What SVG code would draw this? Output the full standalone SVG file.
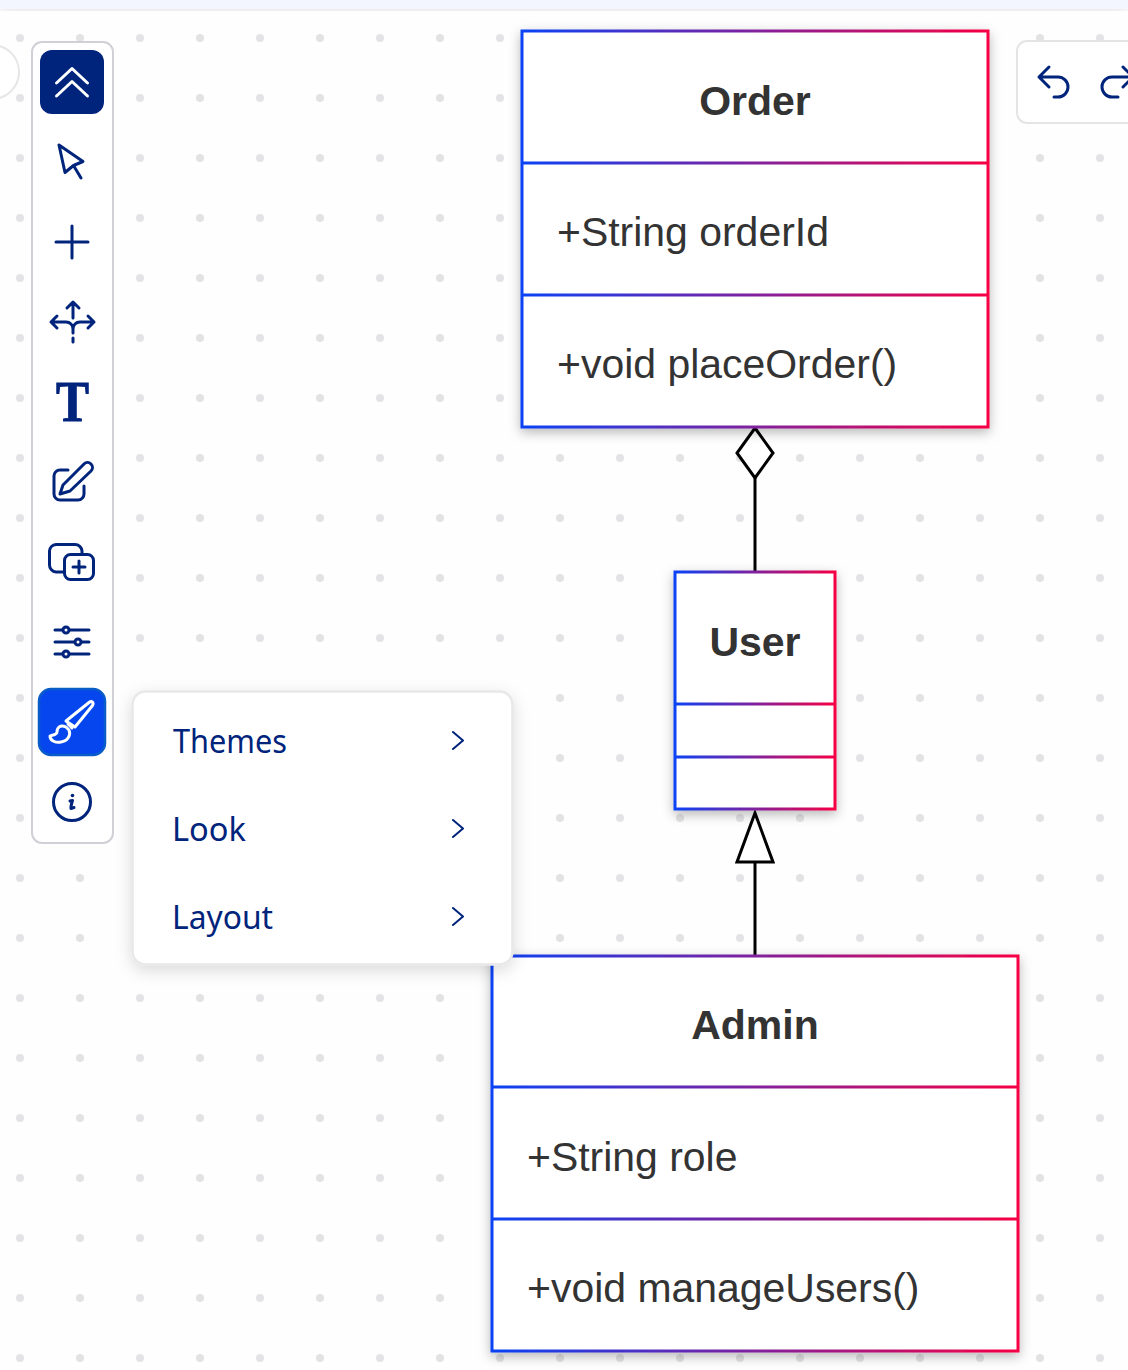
<svg xmlns="http://www.w3.org/2000/svg" width="1128" height="1370" viewBox="0 0 1128 1370">
<style>
.title{font:bold 41px "Liberation Sans",Arial,sans-serif;fill:#333;text-anchor:middle}
.member{font:40.950px "Liberation Sans",Arial,sans-serif;fill:#333}
.menu{font:32px "Noto Sans",Lato,sans-serif;fill:#00247c}
.ico{fill:none;stroke:#00247c;stroke-width:3;stroke-linecap:round;stroke-linejoin:round}
.wht{fill:none;stroke:#fff;stroke-width:3;stroke-linecap:round;stroke-linejoin:round}
.box{fill:#fff;stroke-width:3}
.div{fill:none;stroke-width:3}
.edge{fill:none;stroke:#000;stroke-width:3}
.o{stroke:url(#gOrder)}.u{stroke:url(#gUser)}.a{stroke:url(#gAdmin)}
</style>
<defs>
<pattern id="dots" x="0" y="0" width="60" height="60" patternUnits="userSpaceOnUse"><circle cx="20" cy="38" r="4" fill="#e3e3e6"/></pattern>
<linearGradient id="gOrder" gradientUnits="userSpaceOnUse" x1="522" y1="0" x2="988" y2="0"><stop offset="0" stop-color="#0a42f5"/><stop offset="1" stop-color="#f70044"/></linearGradient>
<linearGradient id="gUser" gradientUnits="userSpaceOnUse" x1="675" y1="0" x2="835" y2="0"><stop offset="0" stop-color="#0a42f5"/><stop offset="1" stop-color="#f70044"/></linearGradient>
<linearGradient id="gAdmin" gradientUnits="userSpaceOnUse" x1="492" y1="0" x2="1018" y2="0"><stop offset="0" stop-color="#0a42f5"/><stop offset="1" stop-color="#f70044"/></linearGradient>
<filter id="sh" x="-10%" y="-10%" width="120%" height="120%"><feDropShadow dx="0" dy="4" stdDeviation="6" flood-color="#000" flood-opacity=".28"/></filter>
<filter id="sh2" x="-10%" y="-10%" width="120%" height="125%"><feDropShadow dx="0" dy="5" stdDeviation="8" flood-color="#000" flood-opacity=".14"/></filter>
<marker id="diamond" markerUnits="userSpaceOnUse" viewBox="0 0 40 54" markerWidth="40" markerHeight="54" refX="20" refY="52" orient="0"><path d="M20 2L38 27L20 52L2 27Z" fill="#fff" stroke="#000" stroke-width="3"/></marker>
<marker id="triangle" markerUnits="userSpaceOnUse" viewBox="0 0 40 54" markerWidth="40" markerHeight="54" refX="20" refY="52" orient="0"><path d="M20 3L38 52H2Z" fill="#fff" stroke="#000" stroke-width="3"/></marker>
</defs>
<rect id="background" width="1128" height="1370" fill="#fefefe"/>
<rect id="dot-grid" width="1128" height="1370" fill="url(#dots)"/>
<rect id="top-bar" width="1128" height="9" fill="#f3f6fe" filter="url(#sh2)"/>
<circle id="corner-control" cx="-8" cy="72" r="27" fill="#fff" stroke="#e6e6e6" stroke-width="2"/>

<g id="connectors">
<path class="edge" d="M755 572V478" marker-end="url(#diamond)"/>
<path class="edge" d="M755 956V862" marker-end="url(#triangle)"/>
</g>

<g id="node-order">
<rect class="box o" x="522" y="31" width="466" height="396" filter="url(#sh)"/>
<path class="div o" d="M522 163H988M522 295H988"/>
<text class="title" x="755" y="115">Order</text>
<text class="member" x="557" y="246">+String orderId</text>
<text class="member" x="557" y="378">+void placeOrder()</text>
</g>
<g id="node-user">
<rect class="box u" x="675" y="572" width="160" height="237" filter="url(#sh)"/>
<path class="div u" d="M675 704H835M675 757H835"/>
<text class="title" x="755" y="656">User</text>
</g>
<g id="node-admin">
<rect class="box a" x="492" y="956" width="526" height="395" filter="url(#sh)"/>
<path class="div a" d="M492 1087H1018M492 1219H1018"/>
<text class="title" x="755" y="1039">Admin</text>
<text class="member" x="527" y="1171">+String role</text>
<text class="member" x="527" y="1302">+void manageUsers()</text>
</g>

<g id="toolbar">
<rect x="32" y="42" width="81" height="801" rx="10" fill="#fff" stroke="#d0d0d6" stroke-width="2"/>
<g id="tool-collapse"><rect x="40" y="50" width="64" height="64" rx="12" fill="#00247c"/><path class="wht" d="M56.500 83L72 68.500L87.500 83M56.500 96L72 81.500L87.500 96"/></g>
<g id="tool-pointer"><path class="ico" d="M59 145L83 161.500L73.500 165.500L65 172.500ZM73.500 165.500L81 178"/></g>
<g id="tool-add"><path class="ico" d="M56 242H88M72 226V258"/></g>
<g id="tool-move"><path class="ico" d="M73 303V318M67 308L73 302L79 308M52 322H66C70 322 73 325 73 329C73 325 76 322 80 322H94M57 316L51 322L57 328M88 316L94 322L88 328M73 329V333M73 338V342"/></g>
<g id="tool-text"><text x="56" y="421" textLength="33" lengthAdjust="spacingAndGlyphs" font-family="'Liberation Serif',serif" font-weight="bold" font-size="56" fill="#00247c" stroke="#00247c" stroke-width="1">T</text></g>
<g id="tool-edit"><path class="ico" d="M68 470H60A6 6 0 0 0 54 476V494A6 6 0 0 0 60 500H78A6 6 0 0 0 84 494V486"/><path class="ico" d="M60 494L63 485L84 464A3.500 3.500 0 0 1 91 471L70 491Z"/></g>
<g id="tool-duplicate"><path class="ico" d="M64 572H56A7 7 0 0 1 49.500 565V551A7 7 0 0 1 56 544.500H75A7 7 0 0 1 82 551V554"/><rect class="ico" x="64.500" y="554.500" width="29" height="25" rx="6"/><path class="ico" d="M73 567H85M79 561V573"/></g>
<g id="tool-settings"><path class="ico" d="M55 630H89M55 642H89M55 654H89"/><circle class="ico" cx="66" cy="630" r="3" style="fill:#fff"/><circle class="ico" cx="78" cy="642" r="3" style="fill:#fff"/><circle class="ico" cx="66" cy="654" r="3" style="fill:#fff"/></g>
<g id="tool-style"><rect x="39" y="689" width="66" height="66" rx="12" fill="#0546ee" stroke="#0a5cc8" stroke-width="2.500"/><path class="wht" d="M66 721L89 702.500C92 700 94 703 92.500 705.500L75 727Z"/><path class="wht" stroke-width="2.500" d="M68 724L72 728"/><path class="wht" d="M66 727C60 724 57 728 57 732C57 735 52 735 50 736C50 741 56 743 61 742C68 741 71 735 69 730Z"/></g>
<g id="tool-info"><circle class="ico" cx="72" cy="802" r="18.500"/><path class="ico" d="M70 801L72.500 800.500C71.500 804 70.500 807 71 808.500L74 807.500"/><circle cx="72.500" cy="795.500" r="1.800" fill="#00247c"/></g>
</g>

<g id="menu">
<rect x="132.500" y="691.500" width="380" height="273" rx="13" fill="#fff" stroke="#e8e8e8" stroke-width="2.500" filter="url(#sh2)"/>
<text class="menu" x="173" y="753" textLength="114" lengthAdjust="spacingAndGlyphs">Themes</text>
<text class="menu" x="172" y="841" textLength="74" lengthAdjust="spacingAndGlyphs">Look</text>
<text class="menu" x="172" y="929" textLength="101" lengthAdjust="spacingAndGlyphs">Layout</text>
<path class="ico" style="stroke-width:2" d="M453 732L463 740.500L453 749M453 820L463 828.500L453 837M453 908L463 916.500L453 925"/>
</g>

<g id="history">
<rect x="1017" y="41" width="130" height="82" rx="10" fill="#fff" stroke="#e4e4e4" stroke-width="2"/>
<path class="ico" d="M1049 67L1039 77L1049 87M1039 77H1058A10 10 0 0 1 1058 97H1054"/>
<path class="ico" d="M1123 67L1133 77L1123 87M1133 77H1112A10 10 0 0 0 1112 97H1118"/>
</g>
</svg>
